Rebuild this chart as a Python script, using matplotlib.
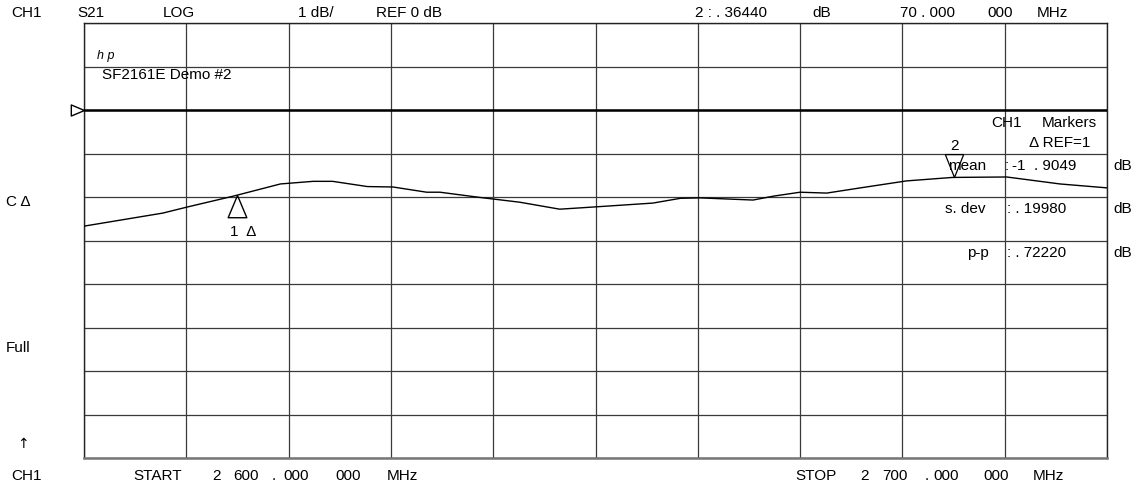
import numpy as np
import matplotlib
matplotlib.use("Agg")
import matplotlib.pyplot as plt
from matplotlib.path import Path

plt.rcParams['font.family'] = ['Liberation Sans', 'DejaVu Sans']

# ---- data ----
freq_mhz = [2600, 2607.7, 2610.1, 2614.6, 2619.2, 2622.4, 2624.3, 2627.7, 2630.2,
            2633.5, 2634.8, 2638.7, 2642.6, 2646.5, 2648.5, 2651.1, 2655.6, 2658.3,
            2660.2, 2665.4, 2667.4, 2670.0, 2672.6, 2675.9, 2680.4, 2684.9, 2690.2,
            2695.4, 2700]
s21_db = [-2.67, -2.37, -2.23, -1.98, -1.70, -1.64, -1.64, -1.76, -1.77,
          -1.89, -1.89, -2.01, -2.12, -2.28, -2.25, -2.21, -2.14, -2.03,
          -2.02, -2.07, -1.98, -1.89, -1.91, -1.79, -1.63, -1.55, -1.54,
          -1.70, -1.79]
marker_freqs = [2615.0, 2685.0]
start_mhz, stop_mhz = 2600, 2700
ref_db, scale_db, n_div = 0.0, 1.0, 10
ref_div = 2  # reference line position (divisions from top)

W, H = 1137, 489
fig = plt.figure(figsize=(W / 100, H / 100), dpi=100)
ax = fig.add_axes([84 / W, 1 - 459 / H, 1023 / W, 435 / H])

top_db = ref_db + ref_div * scale_db
bot_db = top_db - n_div * scale_db
ax.set_xlim(start_mhz, stop_mhz)
ax.set_ylim(bot_db, top_db)
ax.set_xticks(np.linspace(start_mhz, stop_mhz, n_div + 1))
ax.set_yticks(np.linspace(bot_db, top_db, n_div + 1))
ax.tick_params(length=0, labelbottom=False, labelleft=False)
ax.grid(True, color='#3a3a3a', lw=0.9)
for sp in ax.spines.values():
    sp.set_color('#222222')
    sp.set_linewidth(1.0)
ax.spines['bottom'].set_color('#777777')
ax.spines['bottom'].set_linewidth(1.8)

ax.axhline(ref_db, color='black', lw=1.8, zorder=3)
ax.plot(freq_mhz, s21_db, color='black', lw=1.0, zorder=4)

# marker triangles
up_tri = Path([(0, 0), (-0.42, -1), (0.42, -1), (0, 0)],
              [Path.MOVETO, Path.LINETO, Path.LINETO, Path.CLOSEPOLY])
dn_tri = Path([(0, 0), (-0.4, 1), (0.4, 1), (0, 0)],
              [Path.MOVETO, Path.LINETO, Path.LINETO, Path.CLOSEPOLY])
m1 = np.interp(marker_freqs[0], freq_mhz, s21_db)
m2 = np.interp(marker_freqs[1], freq_mhz, s21_db)
ax.plot([marker_freqs[0]], [m1], marker=up_tri, ms=32, mfc='none', mec='black',
        mew=1.0, ls='none', zorder=5, clip_on=False)
ax.plot([marker_freqs[1]], [m2], marker=dn_tri, ms=33, mfc='none', mec='black',
        mew=0.9, ls='none', zorder=5, clip_on=False)

# reference position marker on left
ax.plot([start_mhz], [ref_db], marker=Path([(0, 0), (-1, 0.42), (-1, -0.42), (0, 0)],
        [Path.MOVETO, Path.LINETO, Path.LINETO, Path.CLOSEPOLY]),
        ms=19, mfc='white', mec='black', mew=1.0, ls='none', clip_on=False, zorder=6)

FS = 11


def px(x, y, s, size=FS, ha='left', **kw):
    fig.text(x / W, 1 - y / H, s, ha=ha, va='center', fontsize=size, **kw)


# top header
px(11, 13, 'CH1')
px(77, 13, 'S21')
px(163, 13, 'LOG')
px(298, 13, '1 dB/')
px(376, 13, 'REF 0 dB')
px(695, 13, '2 : . 36440')
px(812, 13, 'dB')
px(900, 13, '70 . 000')
px(987, 13, '000')
px(1037, 13, 'MHz')

# bottom footer
px(11, 476, 'CH1')
px(133, 476, 'START')
px(212, 476, '2')
px(233, 476, '600')
px(272, 476, '.')
px(283, 476, '000')
px(335, 476, '000')
px(387, 476, 'MHz')
px(795, 476, 'STOP')
px(860, 476, '2')
px(882, 476, '700')
px(925, 476, '.')
px(933, 476, '000')
px(983, 476, '000')
px(1033, 476, 'MHz')

# left side annotations
px(6, 202, 'C Δ')
px(6, 348, 'Full')
px(17, 444, '↑', family=['DejaVu Sans'], size=10)

# inside plot
px(97, 56, 'h p', size=9, style='italic')
px(102, 75, 'SF2161E Demo #2')
px(230, 232, '1  Δ')
px(950, 146, '2')

# marker statistics panel
px(991, 123, 'CH1')
px(1042, 123, 'Markers')
px(1029, 143, 'Δ REF=1')
px(948, 166, 'mean')
px(1005, 166, ':')
px(1012, 166, '-1  . 9049')
px(1113, 166, 'dB')
px(945, 209, 's. dev')
px(1007, 209, ': . 19980')
px(1113, 209, 'dB')
px(967, 253, 'p-p')
px(1007, 253, ': . 72220')
px(1113, 253, 'dB')

fig.savefig('out.png', dpi=100, facecolor='white')
